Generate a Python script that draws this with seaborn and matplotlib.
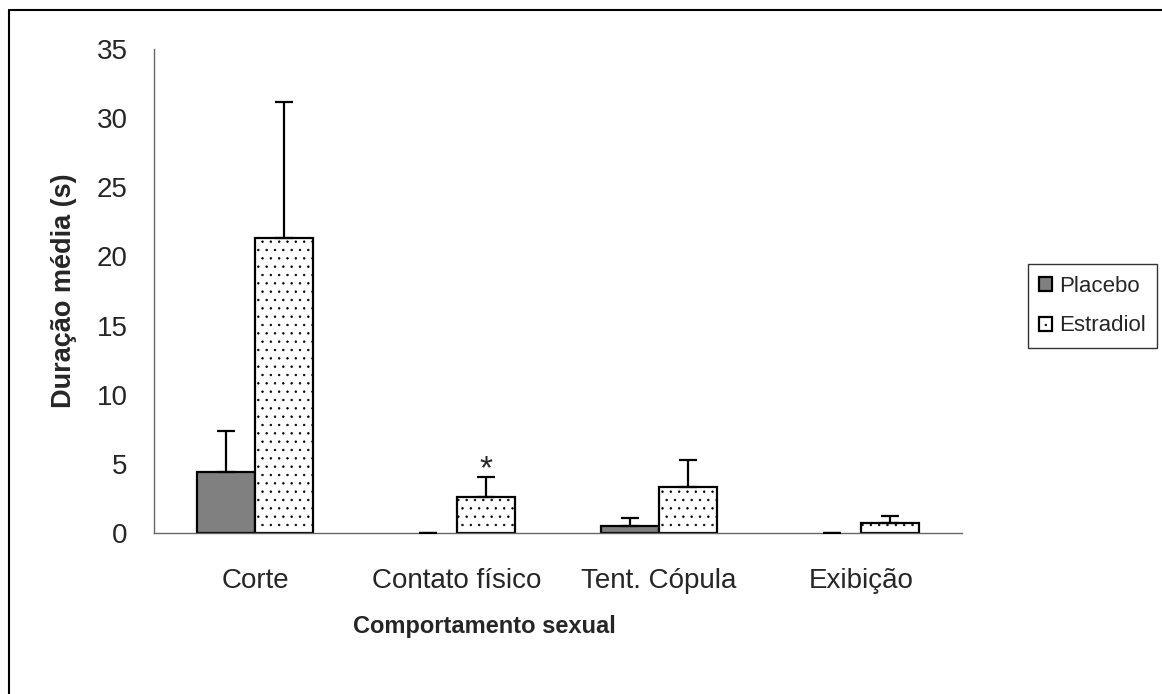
import matplotlib
matplotlib.use("Agg")
import matplotlib.pyplot as plt
from matplotlib.lines import Line2D
import seaborn as sns
import numpy as np
import pandas as pd

# dados
comportamentos = ["Corte", "Contato físico", "Tent. Cópula", "Exibição"]
grupos = ["Placebo", "Estradiol"]
media_placebo = [4.4, 0.0, 0.5, 0.0]
media_estradiol = [21.3, 2.6, 3.35, 0.75]
erro_placebo = [3.0, 0.0, 0.55, 0.0]
erro_estradiol = [9.85, 1.45, 1.9, 0.5]
cores = {"Placebo": "#808080", "Estradiol": "white"}

df = pd.DataFrame({
    "comportamento": comportamentos * 2,
    "grupo": [grupos[0]] * 4 + [grupos[1]] * 4,
    "media": media_placebo + media_estradiol,
})
erros = [erro_placebo, erro_estradiol]

sns.set_style("white")
plt.rcParams["font.family"] = ["Liberation Sans", "DejaVu Sans"]
plt.rcParams["hatch.color"] = "#777777"
plt.rcParams["hatch.linewidth"] = 0.5

fig = plt.figure(figsize=(11.62, 6.94), dpi=100)
ax = fig.add_axes([0.1325, 0.232, 0.6955, 0.6974])

sns.barplot(data=df, x="comportamento", y="media", hue="grupo", hue_order=grupos,
            order=comportamentos, palette=cores, errorbar=None, width=0.575,
            edgecolor="black", linewidth=1.6, legend=False, ax=ax)

barras = list(ax.containers)

# barras e barras de erro (só para cima)
centros = []
for i, cont in enumerate(barras):
    xs, tops = [], []
    for bar in cont.patches:
        if i == 1:
            bar.set_hatch("..")
        if bar.get_height() == 0:
            bar.set_linewidth(0)
        xs.append(bar.get_x() + bar.get_width() / 2)
        tops.append(bar.get_height())
    ax.errorbar(xs, tops, yerr=[np.zeros(len(tops)), erros[i]], fmt="none",
                ecolor="black", elinewidth=1.6, capsize=6.5, capthick=1.6, zorder=3)
    centros.append(xs)

# asterisco no contato físico
ax.text(centros[1][1], media_estradiol[1] + erro_estradiol[1] + 0.5, "*",
        ha="center", va="center", fontsize=24)

ax.set_ylim(0, 35)
ax.set_yticks(range(0, 36, 5))
ax.set_xlim(-0.5, 3.5)
ax.set_xticks(range(4))
ax.set_xticklabels(comportamentos)
ax.set_xticks(np.arange(-0.5, 4, 1), minor=True)
ax.tick_params(axis="x", which="major", length=0, pad=25, labelsize=20)
ax.tick_params(axis="x", which="minor", length=9, width=1, color="#666666", direction="out")
ax.tick_params(axis="y", length=8, width=1, color="#666666", direction="out", pad=11, labelsize=20)

for s in ["top", "right"]:
    ax.spines[s].set_visible(False)
for s in ["left", "bottom"]:
    ax.spines[s].set_color("#666666")
    ax.spines[s].set_linewidth(1)

ax.set_ylabel("Duração média (s)", fontsize=19.5, fontweight="bold")
ax.yaxis.set_label_coords(-0.095, 0.5)
ax.set_xlabel("Comportamento sexual", fontsize=17, fontweight="bold")
ax.xaxis.set_label_coords((484 - 154) / 808, -0.17)

handles = [barras[0].patches[0], barras[1].patches[0]]
leg = ax.legend(handles, grupos, loc="center left", bbox_to_anchor=(1.081, 0.469),
                fontsize=16, frameon=True, fancybox=False, edgecolor="black",
                handlelength=0.6, handleheight=0.6, handletextpad=0.3,
                borderpad=0.5, borderaxespad=0, labelspacing=0.85)
leg.get_frame().set_linewidth(1)

# moldura externa (lado esquerdo e topo)
fig.add_artist(Line2D([9 / 1162, 9 / 1162], [0, 1 - 10 / 694], color="black",
                      lw=1.5, transform=fig.transFigure))
fig.add_artist(Line2D([9 / 1162, 1], [1 - 10 / 694, 1 - 10 / 694], color="black",
                      lw=1.5, transform=fig.transFigure))

fig.savefig("out.png", dpi=100)
